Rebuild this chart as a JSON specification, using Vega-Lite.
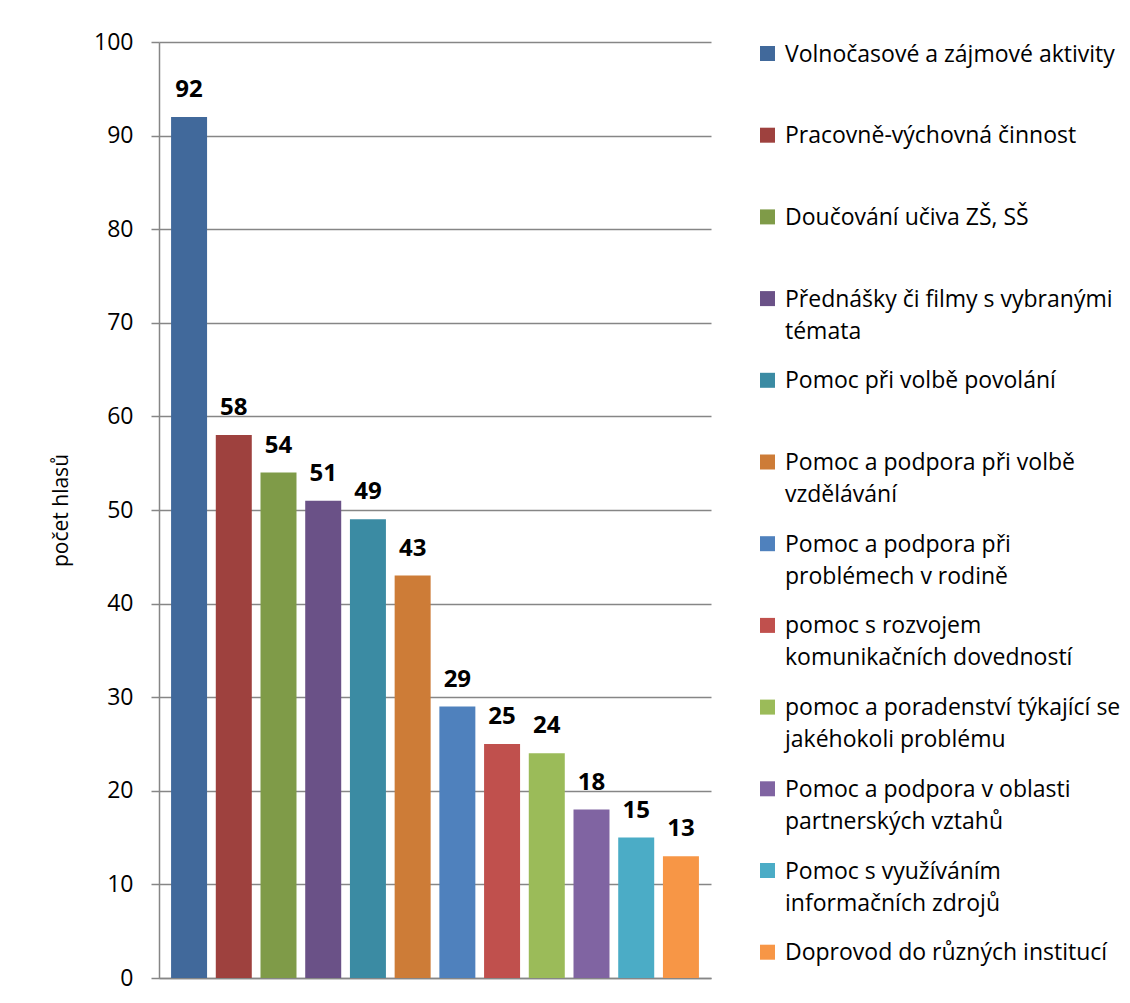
{
  "$schema": "https://vega.github.io/schema/vega-lite/v6.json",
  "autosize": "none",
  "padding": {"left": 159, "top": 42, "right": 419, "bottom": 25},
  "width": 552,
  "height": 936,
  "background": "white",
  "data": {
    "values": [
      {"aktivita": "Volnočasové a zájmové aktivity", "hlasy": 92},
      {"aktivita": "Pracovně-výchovná činnost", "hlasy": 58},
      {"aktivita": "Doučování učiva ZŠ, SŠ", "hlasy": 54},
      {"aktivita": "Přednášky či filmy s vybranými\ntémata", "hlasy": 51},
      {"aktivita": "Pomoc při volbě povolání", "hlasy": 49},
      {"aktivita": "Pomoc a podpora při volbě\nvzdělávání", "hlasy": 43},
      {"aktivita": "Pomoc a podpora při\nproblémech v rodině", "hlasy": 29},
      {"aktivita": "pomoc s rozvojem\nkomunikačních dovedností", "hlasy": 25},
      {"aktivita": "pomoc a poradenství týkající se\njakéhokoli problému", "hlasy": 24},
      {"aktivita": "Pomoc a podpora v oblasti\npartnerských vztahů", "hlasy": 18},
      {"aktivita": "Pomoc s využíváním\ninformačních zdrojů", "hlasy": 15},
      {"aktivita": "Doprovod do různých institucí", "hlasy": 13}
    ]
  },
  "encoding": {
    "x": {
      "field": "aktivita",
      "type": "nominal",
      "sort": null,
      "scale": {"paddingInner": 0.195, "paddingOuter": 0.27},
      "axis": {"labels": false, "ticks": false, "title": null, "domainColor": "#868686", "domainWidth": 1.5}
    },
    "y": {
      "field": "hlasy",
      "type": "quantitative",
      "scale": {"domain": [0, 100], "nice": false},
      "axis": {
        "values": [0, 10, 20, 30, 40, 50, 60, 70, 80, 90, 100],
        "title": "počet hlasů",
        "titleFontSize": 21,
        "titleFontWeight": "normal",
        "titleColor": "#000000",
        "titlePadding": 22,
        "labelFontSize": 23,
        "labelColor": "#000000",
        "labelPadding": 18,
        "tickSize": 8,
        "tickColor": "#868686",
        "tickWidth": 1.5,
        "domainColor": "#868686",
        "domainWidth": 1.5,
        "gridColor": "#868686",
        "gridWidth": 1.5
      }
    }
  },
  "layer": [
    {
      "mark": {"type": "bar"},
      "encoding": {
        "color": {
          "field": "aktivita",
          "type": "nominal",
          "sort": null,
          "scale": {
            "range": ["#41699B", "#9E413E", "#7F9B48", "#6A5187", "#3B8BA3", "#CD7C37", "#4F81BD", "#C0504D", "#9BBB59", "#8064A2", "#4BACC6", "#F79646"]
          },
          "legend": {
            "title": null,
            "orient": "right",
            "offset": 45,
            "padding": 0,
            "columns": 1,
            "gridAlign": "all",
            "rowPadding": 24.7,
            "symbolType": "square",
            "symbolSize": 225,
            "symbolStrokeWidth": 0,
            "labelOffset": 6,
            "labelFontSize": 23,
            "labelColor": "#000000",
            "labelLimit": 500,
            "labelBaseline": "alphabetic",
            "labelExpr": "split(datum.label, '\\n')",
            "encoding": {"labels": {"dy": {"value": 8}, "lineHeight": {"value": 32}}}
          }
        }
      }
    },
    {
      "mark": {"type": "text", "baseline": "alphabetic", "dy": -20, "fontSize": 24, "fontWeight": "bold", "color": "#000000"},
      "encoding": {"text": {"field": "hlasy", "type": "quantitative"}}
    }
  ],
  "config": {
    "font": "Open Sans",
    "view": {"stroke": null}
  }
}
